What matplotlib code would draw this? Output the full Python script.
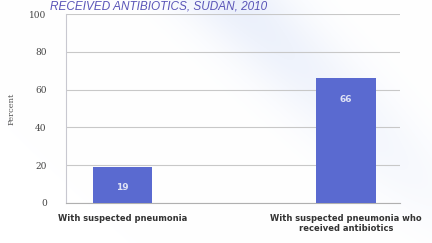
import numpy as np
import matplotlib
matplotlib.use("Agg")
import matplotlib.pyplot as plt

# data
categories = ["With suspected pneumonia", "With suspected pneumonia who\nreceived antibiotics"]
values = [19, 66]
yticks = [0, 20, 40, 60, 80, 100]
title = "RECEIVED ANTIBIOTICS, SUDAN, 2010"

fig = plt.figure(figsize=(4.32, 2.43), dpi=100)

# faint diagonal blue streak in the scanned background
bg = fig.add_axes([0, 0, 1, 1], zorder=-10)
yy, xx = np.mgrid[0:243, 0:432]
d = (xx - 230) - 1.0 * yy
shade = np.exp(-(d / 60.0) ** 2) * np.clip(1 - yy / 280.0, 0, 1)
img = np.ones((243, 432, 3))
img[..., 0] -= 0.08 * shade
img[..., 1] -= 0.06 * shade
img[..., 2] -= 0.015 * shade
bg.imshow(img, aspect="auto")
bg.axis("off")

ax = fig.add_axes([0.153, 0.165, 0.773, 0.777])
ax.patch.set_alpha(0)
x = np.arange(len(categories))
bars = ax.bar(x, values, width=0.265, color="#5a6ad0", zorder=3)
for b, v in zip(bars, values):
    ax.annotate(str(v), (b.get_x() + b.get_width() / 2, v), xytext=(0, -15),
                textcoords="offset points", ha="center", va="center",
                color="#dfe3f5", fontsize=6.5, fontweight="bold")

ax.set_xlim(-0.253, 1.242)
ax.set_ylim(0, 100)
ax.set_yticks(yticks)
ax.set_yticklabels([str(t) for t in yticks], family="DejaVu Serif", fontsize=6.5, color="#444444")
ax.set_xticks(x)
ax.set_xticklabels(categories, fontsize=6, fontweight="bold", color="#333333")
ax.tick_params(axis="both", length=0)
ax.tick_params(axis="y", pad=14)
ax.tick_params(axis="x", pad=8)
ax.grid(axis="y", color="#c8c8c8", linewidth=0.8, zorder=0)
for s in ["top", "right"]:
    ax.spines[s].set_visible(False)
ax.spines["left"].set_color("#c8c8d0")
ax.spines["bottom"].set_color("#b0b0b0")
ax.set_ylabel("Percent", family="DejaVu Serif", fontsize=6, color="#555555", labelpad=10)

fig.text(0.115, 0.962, title, color="#5a55b8", fontsize=8.5, style="italic",
         family="Liberation Sans", va="baseline")

fig.savefig("out.png", dpi=100)
